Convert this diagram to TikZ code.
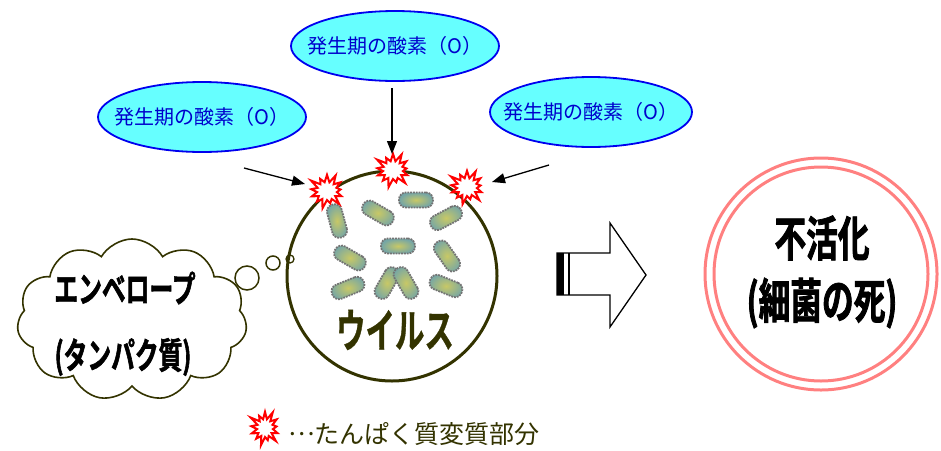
\documentclass[tikz,border=0pt]{standalone}
\usepackage{fontspec}
\newfontfamily\jp{Noto Sans CJK JP}
\newfontfamily\jpheavy[FakeStretch=0.66, FakeBold=1.6]{Noto Sans CJK JP Bold}
\newfontfamily\jpbrush[FakeStretch=0.64, FakeBold=0.8]{Noto Sans CJK JP Bold}
\usetikzlibrary{shapes.geometric,shapes.symbols,arrows.meta}
\definecolor{olive}{HTML}{333300}
\definecolor{oxfill}{HTML}{66FFFF}
\definecolor{oxline}{HTML}{0000EE}
\definecolor{oxtext}{HTML}{0000CC}
\definecolor{ring}{HTML}{FF8080}
\tikzset{
  oxygen/.style={ellipse, draw=oxline, fill=oxfill, line width=1.8pt,
    minimum width=208pt, minimum height=70pt, inner xsep=-16pt, inner ysep=0pt,
    text=oxtext, font=\jp\fontsize{20}{22}\selectfont},
  burst/.style={starburst, starburst points=13, starburst point height=10pt,
    draw=red, fill=white, line width=2pt, minimum width=40pt, minimum height=38pt, inner sep=0pt},
  rod/.style={rectangle, rounded corners=7pt, minimum width=34pt, minimum height=15pt,
    inner color=yellow!55!olive!60!white, outer color=teal!55!gray!70,
    draw=black!55, densely dotted, line width=1.8pt},
  hit/.style={-{Triangle[length=13pt,width=10pt]}, line width=1.3pt},
  heavy/.style={font=\jpheavy\fontsize{36}{38}\selectfont}
}
\begin{document}
\begin{tikzpicture}[x=1pt,y=-1pt]
\useasboundingbox (0,0) rectangle (941,450);

% oxygen sources
\node[oxygen] (o1) at (395,46) {発生期の酸素（O）};
\node[oxygen] (o2) at (202,117) {発生期の酸素（O）};
\node[oxygen, minimum width=202pt] (o3) at (591,112) {発生期の酸素（O）};

% virus body
\node[circle, draw=olive, line width=3pt, minimum size=210pt, inner sep=0pt] (virus) at (392,276) {};

% rods inside
\node[rod, rotate=-75] (b1) at (337,221) {};
\node[rod, rotate=-30] (b2) at (378,213) {};
\node[rod, rotate=0]   (b3) at (416,200) {};
\node[rod, rotate=28]  (b4) at (446,218) {};
\node[rod, rotate=0]   (b5) at (398,246) {};
\node[rod, rotate=-30] (b6) at (350,258) {};
\node[rod, rotate=-55] (b7) at (447,256) {};
\node[rod, rotate=22]  (b8) at (348,288) {};
\node[rod, rotate=60]  (b9) at (387,283) {};
\node[rod, rotate=-60] (b10) at (406,283) {};
\node[rod, rotate=-22] (b11) at (446,286) {};

\node[text=olive, font=\jpbrush\fontsize{46}{48}\selectfont] (vname) at (395,330) {ウイルス};

% denatured spots
\node[burst] (s1) at (327,191) {};
\node[burst] (s2) at (393,170) {};
\node[burst] (s3) at (467,187) {};

% attacking arrows
\coordinate (a1) at (392,88);
\coordinate (a2) at (244,168);
\coordinate (a3) at (549,165);
\draw[hit] (a1) -- (392,154);
\draw[hit] (a2) -- (305,184);
\draw[hit] (a3) -- (492,182);

% envelope cloud
\node[cloud, cloud puffs=11, cloud puff arc=120, aspect=1.4, draw=olive, line width=1.6pt,
      minimum width=230pt, minimum height=162pt] (cloud) at (132,320) {};
\node[heavy] (env) at (125,288) {エンベロープ};
\node[heavy] (prot) at (123,357) {(タンパク質)};
\node[circle, draw=olive, line width=1.5pt, minimum size=24pt, inner sep=0pt] (t1) at (247,278) {};
\node[circle, draw=olive, line width=1.5pt, minimum size=14pt, inner sep=0pt] (t2) at (273,263) {};
\node[circle, draw=olive, line width=1.3pt, minimum size=8pt, inner sep=0pt] (t3) at (290,259) {};

% block arrow
\draw[line width=1.3pt, fill=white, line join=miter]
  (557,253) -- (610,253) -- (610,223) -- (646,275) -- (610,327) -- (610,295) -- (557,295) -- cycle;
\fill (557,253) rectangle (564,295);
\draw[line width=1.2pt] (569,253) -- (569,295);

% result ring
\node[circle, draw=ring, line width=3pt, minimum size=232pt, inner sep=0pt] (outer) at (821,274) {};
\node[circle, draw=ring, line width=3pt, minimum size=214pt, inner sep=0pt] (inner) at (821,274) {};
\node[font=\jpheavy\fontsize{48}{50}\selectfont] (res1) at (822,238) {不活化};
\node[font=\jpheavy\fontsize{48}{50}\selectfont] (res2) at (822,303) {(細菌の死)};

% legend
\node[burst, minimum width=36pt, minimum height=38pt] (key) at (265,428) {};
\node[anchor=west, text=olive, font=\jp\fontsize{25}{27}\selectfont, inner sep=0pt] (keytext) at (288,434) {\raisebox{0.32em}{…}たんぱく質変質部分};
\end{tikzpicture}
\end{document}
